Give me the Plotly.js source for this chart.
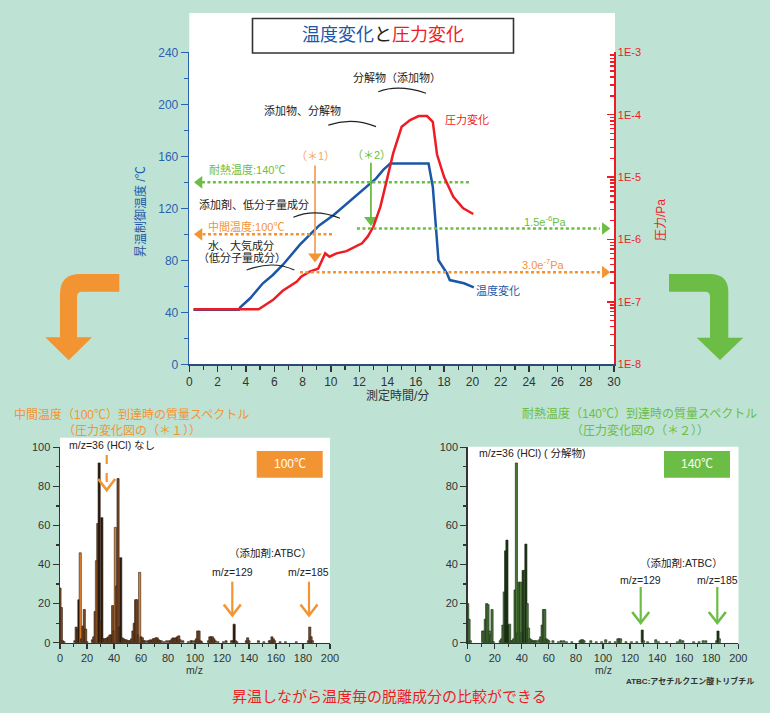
<!DOCTYPE html>
<html><head><meta charset="utf-8">
<script src="https://cdn.plot.ly/plotly-3.0.1.min.js"></script>
<style>html,body{margin:0;padding:0;background:#bee3d4}</style>
</head><body><div id="chart" style="width:770px;height:713px"></div>
<script>
// ---------------- DATA ----------------
// Temperature profile (min, °C)
const timeTemp = [0.3, 3.5, 3.6, 4.3, 5.2, 5.9, 6.6, 7.3, 7.8, 8.5, 9.2, 10.2, 11.3, 12.3, 13.2, 13.7, 14.2, 16.9, 17.2, 17.4, 17.6, 18.2, 18.4, 19.4, 20.1];
const tempC    = [42, 42, 43.8, 50.8, 62.3, 68.7, 76.4, 85.4, 91.8, 99.5, 107, 114.8, 125, 134, 143, 149.5, 154.5, 154.5, 136.6, 108.5, 80, 70, 64.8, 62.3, 59.2];
// Pressure profile (min, Pa)
const timePres = [0.3, 4.9, 5.9, 6.6, 7.6, 7.9, 8.5, 9.1, 9.6, 9.9, 10.4, 11.1, 12.2, 12.6, 13.0, 13.5, 13.9, 14.4, 15.0, 15.6, 16.2, 16.8, 17.2, 17.5, 18.0, 18.65, 19.35, 20.06];
const pressurePa = [7.6e-8, 7.6e-8, 1.07e-7, 1.51e-7, 2.11e-7, 2.54e-7, 3.05e-7, 3.4e-7, 6.0e-7, 5.3e-7, 6.0e-7, 6.5e-7, 8.7e-7, 1.11e-6, 1.6e-6, 3.36e-6, 8.0e-6, 2.4e-5, 6.4e-5, 8.2e-5, 9.5e-5, 9.5e-5, 7.7e-5, 2.3e-5, 1.0e-5, 4.85e-6, 3.16e-6, 2.56e-6];
// Reference levels
const heatLimitC = 140, midTempC = 100;
const pressMark2 = 1.5e-6, pressMark1 = 3.0e-7;
const sample1Time = 8.88, sample2Time = 12.83;
const sample1Span = [153, 83], sample2Span = [155, 111];
// Mass spectrum at 100 °C
const mz100  = [0,1,2,3,11,12,13,14,15,16,17,18,19,20,24,25,26,27,28,29,30,31,32,33,34,35,36,37,38,39,40,41,42,43,44,45,46,47,48,49,50,51,52,53,54,55,56,57,58,59,60,61,62,63,65,66,67,68,69,70,71,72,73,74,75,77,79,81,82,83,84,85,86,87,88,89,91,95,97,98,100,101,102,103,104,105,110,111,112,113,114,115,117,121,123,127,128,129,130,131,138,139,140,147,151,155,156,157,158,159,163,167,175,184,185,186,187];
const int100 = [28,18,1,0.5,1,8,7,22,46,2,8.5,17,7,0.5,1.5,3,16,42,61,92,11,64,2,2,2,2.5,3,4,4,19,6,59,29,84,8,43.5,2.5,2,1.5,1.5,1,1,1,2,6,10,22,22,4,36,3,2.5,1,1,1,1,1.5,1,2,2,2.5,2.5,1.5,1,1,0.5,1,1,1,2,2.5,2,2.5,3,3.5,1.5,1,0.5,1,1,1,2,6,6,1,0.5,1,3,3,3,2,1,0.5,0.5,1,1,1,9.5,1,0.5,1,2.5,1,1,0.5,1,1,3,2,1,0.5,0.5,0.5,1,8,3,1];
// Mass spectrum at 140 °C
const mz140  = [0,1,2,11,12,13,14,15,16,17,18,19,24,25,26,27,28,29,30,31,32,33,34,35,36,37,38,39,40,41,42,43,44,45,46,47,48,49,50,51,53,54,55,56,57,58,59,60,63,67,69,71,73,77,83,84,85,86,91,95,99,102,105,109,111,112,113,117,121,125,129,130,133,139,141,147,155,157,159,167,171,174,176,184,185,186];
const int140 = [20,12,1,6,6,12,20,19.5,6,4,17,0.5,1,2,9,26,47,52.5,9,9.5,1,1,2,27,92,5,31,31,5,37,37,50.5,20,7.5,2,1.5,1,1,1,1,1.5,3,9,17,17,2,1.5,1,1,0.5,1,1,0.5,0.5,1,1.5,1.5,1,1,0.5,0.5,1.5,0.5,0.5,2,2,2,0.5,0.5,0.5,6.5,1,0.5,1.5,0.5,0.5,0.5,1.5,1,0.5,0.5,1,1,1,6,2];
// Tick labels
const presTickVals = [1e-8,1e-7,1e-6,1e-5,1e-4,1e-3];
const presTickText = ['1E-8','1E-7','1E-6','1E-5','1E-4','1E-3'];

// ---------------- STYLE ----------------
const W = 770, H = 713;
const BLUE = '#1c57a7', RED = '#ee1d25', ORANGE = '#f39433', GREEN = '#6cbd45', DARK = '#333333';
const FONT = 'Liberation Sans, Arial, Noto Sans CJK JP, sans-serif';
const fx = x => x / W, fy = y => 1 - y / H;
const pth = pts => pts.map((p, i) => (i ? 'L' : 'M') + fx(p[0]).toFixed(5) + ',' + fy(p[1]).toFixed(5)).join(' ');

const darkBars100 = [14, 29, 31, 45, 129];
const orangeBars100 = [15, 27, 41, 59];
const col100 = mz100.map(m => darkBars100.includes(m) ? '#2b1a0e' : (orangeBars100.includes(m) ? '#e8862c' : '#7a4a28'));
const darkBars140 = [28, 29, 30, 41, 43, 129, 185];
const col140 = mz140.map(m => darkBars140.includes(m) ? '#1e3117' : '#4a7539');

const minorLog = [];
for (let e = -8; e < -3; e++) for (let d = 2; d <= 9; d++) minorLog.push(d * Math.pow(10, e));

const dotted = '3px,2.5px';
const traces = [
  {x: timeTemp, y: tempC, xaxis: 'x', yaxis: 'y', mode: 'lines', line: {color: BLUE, width: 2.5}, hoverinfo: 'skip'},
  {x: timePres, y: pressurePa, xaxis: 'x', yaxis: 'y2', mode: 'lines', line: {color: RED, width: 2.5}, hoverinfo: 'skip'},
  // dotted reference lines
  {x: [19.75, 0.9], y: [heatLimitC, heatLimitC], xaxis: 'x', yaxis: 'y', mode: 'lines', line: {color: GREEN, width: 2.5, dash: dotted}},
  {x: [10.08, 0.9], y: [midTempC, midTempC], xaxis: 'x', yaxis: 'y', mode: 'lines', line: {color: ORANGE, width: 2.5, dash: dotted}},
  {x: [11.84, 29.0], y: [pressMark2, pressMark2], xaxis: 'x', yaxis: 'y2', mode: 'lines', line: {color: GREEN, width: 2.5, dash: dotted}},
  {x: [7.82, 29.0], y: [pressMark1, pressMark1], xaxis: 'x', yaxis: 'y2', mode: 'lines', line: {color: ORANGE, width: 2.5, dash: dotted}},
  {x: [0.72], y: [heatLimitC], xaxis: 'x', yaxis: 'y', mode: 'markers', marker: {symbol: 'triangle-left', size: 11, color: GREEN}},
  {x: [0.72], y: [midTempC], xaxis: 'x', yaxis: 'y', mode: 'markers', marker: {symbol: 'triangle-left', size: 11, color: ORANGE}},
  {x: [29.35], y: [pressMark2], xaxis: 'x', yaxis: 'y2', mode: 'markers', marker: {symbol: 'triangle-right', size: 11, color: GREEN}},
  {x: [29.35], y: [pressMark1], xaxis: 'x', yaxis: 'y2', mode: 'markers', marker: {symbol: 'triangle-right', size: 11, color: ORANGE}},
  // vertical sampling arrows
  {x: [sample1Time, sample1Time], y: sample1Span, xaxis: 'x', yaxis: 'y', mode: 'lines', line: {color: '#f5a260', width: 1.8}},
  {x: [sample1Time], y: [sample1Span[1]], xaxis: 'x', yaxis: 'y', mode: 'markers', marker: {symbol: 'triangle-down', size: 12, color: ORANGE}},
  {x: [sample2Time, sample2Time], y: sample2Span, xaxis: 'x', yaxis: 'y', mode: 'lines', line: {color: GREEN, width: 1.8}},
  {x: [sample2Time], y: [sample2Span[1]], xaxis: 'x', yaxis: 'y', mode: 'markers', marker: {symbol: 'triangle-down', size: 12, color: GREEN}},
  // spectra
  {type: 'bar', x: mz100, y: int100, xaxis: 'x2', yaxis: 'y3', width: 1.6, marker: {color: col100, line: {color: '#2a190d', width: 0.6}}},
  {type: 'bar', x: mz140, y: int140, xaxis: 'x3', yaxis: 'y4', width: 1.6, marker: {color: col140, line: {color: '#1a2a13', width: 0.6}}}
];

function txt(text, x, y, color, size, opt) {
  return Object.assign({text: text, xref: 'paper', yref: 'paper', x: fx(x), y: fy(y), showarrow: false,
    xanchor: 'center', yanchor: 'middle', font: {family: FONT, color: color, size: size}}, opt || {});
}

const annotations = [
  txt('<span style="color:' + BLUE + '">温度変化</span><span style="color:#222">と</span><span style="color:' + RED + '">圧力変化</span>', 383, 35.5, '#222', 18),
  txt('分解物（添加物）', 397, 78, '#222', 11),
  txt('添加物、分解物', 302, 111, '#222', 11),
  txt('圧力変化', 467, 120, RED, 11),
  txt('（＊1）', 315, 156, '#f5a66a', 11),
  txt('（＊2）', 371, 155, GREEN, 11),
  txt('耐熱温度:140℃', 207, 170, GREEN, 11, {xanchor: 'left'}),
  txt('添加剤、低分子量成分', 197, 205, '#222', 11, {xanchor: 'left'}),
  txt('中間温度:100℃', 206, 227, ORANGE, 11, {xanchor: 'left'}),
  txt('水、大気成分', 206, 245, '#222', 11, {xanchor: 'left'}),
  txt('（低分子量成分）', 196, 258, '#222', 11, {xanchor: 'left'}),
  txt('1.5e<sup>-6</sup>Pa', 545, 221, GREEN, 11),
  txt('3.0e<sup>-7</sup>Pa', 543, 264, ORANGE, 11),
  txt('温度変化', 498, 291, BLUE, 11),
  txt('昇温制御温度 /℃', 140, 212, BLUE, 12, {textangle: -90}),
  txt('圧力/Pa', 661, 220, RED, 12, {textangle: -90}),
  txt('測定時間/分', 398, 396, DARK, 12),
  // spectrum panel titles
  txt('中間温度（100℃）到達時の質量スペクトル', 131, 414, ORANGE, 12),
  txt('（圧力変化図の（＊１））', 132, 430, ORANGE, 12),
  txt('耐熱温度（140℃）到達時の質量スペクトル', 639, 413, GREEN, 12),
  txt('（圧力変化図の（＊２））', 640, 430, GREEN, 12),
  txt('m/z=36 (HCl) なし', 67, 445, '#222', 10.5, {xanchor: 'left'}),
  txt('m/z=36 (HCl) ( 分解物)', 477, 453, '#222', 10.5, {xanchor: 'left'}),
  txt('100℃', 289.7, 464.3, '#ffffff', 12),
  txt('140℃', 697, 464.3, '#ffffff', 12),
  txt('（添加剤:ATBC）', 270, 553, '#222', 10.5),
  txt('m/z=129', 232, 571.5, '#222', 10.5),
  txt('m/z=185', 308, 571.5, '#222', 10.5),
  txt('（添加剤:ATBC）', 681, 562.5, '#222', 10.5),
  txt('m/z=129', 640.7, 580, '#222', 10.5),
  txt('m/z=185', 717.5, 580, '#222', 10.5),
  txt('m/z', 195, 669.5, DARK, 10.5),
  txt('m/z', 603, 669.5, DARK, 10.5),
  txt('<b>ATBC:アセチルクエン酸トリブチル</b>', 690, 680.5, '#333', 8),
  txt('昇温しながら温度毎の脱離成分の比較ができる', 389, 696, RED, 15)
];

function vArrow(x, y0, y1, color, dash) {
  return [
    {type: 'line', xref: 'paper', yref: 'paper', x0: fx(x), x1: fx(x), y0: fy(y0), y1: fy(y1 - 2), line: {color: color, width: 2.2, dash: dash || 'solid'}},
    {type: 'path', xref: 'paper', yref: 'paper', path: pth([[x - 8.5, y1 - 11], [x, y1], [x + 8.5, y1 - 11]]), line: {color: color, width: 2.6}}
  ];
}
function arc(t0, T0, tc, Tc, t1, T1) {
  return {type: 'path', xref: 'x', yref: 'y', path: `M ${t0},${T0} Q ${tc},${Tc} ${t1},${T1}`, line: {color: '#222', width: 1.2}};
}
function box(x0, y0, x1, y1, fill, lineColor, lw) {
  return {type: 'rect', xref: 'paper', yref: 'paper', x0: fx(x0), x1: fx(x1), y0: fy(y1), y1: fy(y0), fillcolor: fill,
    line: {color: lineColor || fill, width: lw || 0}};
}

const shapes = [
  {type: 'rect', xref: 'paper', yref: 'paper', x0: fx(189.3), x1: fx(615), y0: fy(364.3), y1: fy(13), fillcolor: '#ffffff', line: {width: 0}, layer: 'below'},
  {type: 'rect', xref: 'paper', yref: 'paper', x0: fx(60), x1: fx(330), y0: fy(642.7), y1: fy(437.7), fillcolor: '#ffffff', line: {width: 0}, layer: 'below'},
  {type: 'rect', xref: 'paper', yref: 'paper', x0: fx(467.7), x1: fx(738.3), y0: fy(642.7), y1: fy(446.7), fillcolor: '#ffffff', line: {width: 0}, layer: 'below'},
  box(252.5, 18.5, 513.5, 53, '#ffffff', '#333333', 1.6),
  box(256.7, 451, 322.7, 477.7, ORANGE),
  box(664, 451, 730, 477.7, GREEN),
  arc(13.35, 209.7, 14.8, 215.6, 16.72, 208.5),
  arc(9.82, 184, 11.5, 190.2, 13.19, 182.8),
  arc(7.35, 113.1, 8.9, 120.3, 10.64, 112.3),
  arc(4.05, 72.5, 5.9, 80.3, 7.42, 72.5),
  // big orange arrow (left)
  {type: 'path', xref: 'paper', yref: 'paper', fillcolor: ORANGE, line: {width: 0},
   path: 'M ' + fx(119.3) + ',' + fy(274) + ' L ' + fx(80) + ',' + fy(274) + ' Q ' + fx(60) + ',' + fy(274) + ' ' + fx(60) + ',' + fy(294) +
     ' L ' + fx(60) + ',' + fy(337.3) + ' L ' + fx(45.3) + ',' + fy(337.3) + ' L ' + fx(68.7) + ',' + fy(360.3) + ' L ' + fx(92) + ',' + fy(337.3) +
     ' L ' + fx(77) + ',' + fy(337.3) + ' L ' + fx(77) + ',' + fy(297) + ' Q ' + fx(77) + ',' + fy(291.7) + ' ' + fx(82) + ',' + fy(291.7) +
     ' L ' + fx(119.3) + ',' + fy(291.7) + ' Z'},
  // big green arrow (right)
  {type: 'path', xref: 'paper', yref: 'paper', fillcolor: GREEN, line: {width: 0},
   path: 'M ' + fx(669) + ',' + fy(274) + ' L ' + fx(710) + ',' + fy(274) + ' Q ' + fx(728.3) + ',' + fy(274) + ' ' + fx(728.3) + ',' + fy(292) +
     ' L ' + fx(728.3) + ',' + fy(337.7) + ' L ' + fx(743.3) + ',' + fy(337.7) + ' L ' + fx(720) + ',' + fy(360) + ' L ' + fx(696.7) + ',' + fy(337.7) +
     ' L ' + fx(710) + ',' + fy(337.7) + ' L ' + fx(710) + ',' + fy(297) + ' Q ' + fx(710) + ',' + fy(291.7) + ' ' + fx(705) + ',' + fy(291.7) +
     ' L ' + fx(669) + ',' + fy(291.7) + ' Z'}
].concat(vArrow(106.7, 455, 490, ORANGE, 'dash'), vArrow(232.3, 581.7, 615.5, ORANGE), vArrow(309, 581.7, 615.5, ORANGE),
         vArrow(640.7, 587, 623, GREEN), vArrow(717.3, 587, 623, GREEN));

const specX = dom => ({domain: dom, range: [0, 200], tickmode: 'linear', tick0: 0, dtick: 20, ticks: 'outside', ticklen: 5, tickwidth: 1.2,
  tickcolor: DARK, showline: true, linecolor: DARK, linewidth: 1.5, showgrid: false, zeroline: false,
  tickfont: {family: FONT, size: 11, color: DARK}, minor: {ticks: 'outside', ticklen: 3, dtick: 10, tickcolor: DARK, showgrid: false}});
const specY = () => ({domain: [fy(642.7), fy(447.3)], range: [0, 100], tickmode: 'linear', tick0: 0, dtick: 20, ticks: 'outside', ticklen: 6, tickwidth: 1.2,
  tickcolor: DARK, showline: true, linecolor: DARK, linewidth: 1.5, showgrid: false, zeroline: false,
  tickfont: {family: FONT, size: 11, color: DARK}, minor: {ticks: 'outside', ticklen: 3, dtick: 10, tickcolor: DARK, showgrid: false}});

const layout = {
  width: W, height: H, autosize: false, margin: {l: 0, r: 0, t: 0, b: 0, pad: 0},
  paper_bgcolor: '#bee3d4', plot_bgcolor: '#ffffff', showlegend: false, bargap: 0,
  font: {family: FONT, color: DARK},
  xaxis: {domain: [fx(189.3), fx(614)], range: [0, 30], anchor: 'y', tickmode: 'linear', tick0: 0, dtick: 2, ticks: 'outside', ticklen: 6, tickwidth: 1.3,
    tickcolor: DARK, showline: true, linecolor: '#2b4a7a', linewidth: 1.5, showgrid: false, zeroline: false,
    tickfont: {family: FONT, size: 12, color: DARK}, minor: {ticks: 'outside', ticklen: 4, dtick: 1, tickcolor: DARK, showgrid: false}},
  yaxis: {domain: [fy(364.3), fy(52.3)], range: [0, 240], anchor: 'x', tickmode: 'linear', tick0: 0, dtick: 40, ticks: 'outside', ticklen: 7, tickwidth: 1.5,
    tickcolor: '#2a62b0', showline: true, linecolor: '#2a62b0', linewidth: 1.6, showgrid: false, zeroline: false,
    tickfont: {family: FONT, size: 12, color: '#2a62b0'}, minor: {ticks: 'outside', ticklen: 4, dtick: 20, tickcolor: '#2a62b0', showgrid: false}},
  yaxis2: {overlaying: 'y', side: 'right', anchor: 'x', type: 'log', range: [-8, -3], tickmode: 'array', tickvals: presTickVals, ticktext: presTickText,
    ticks: 'inside', ticklen: 7, tickwidth: 1.5, tickcolor: RED, showline: true, linecolor: RED, linewidth: 1.6, showgrid: false, zeroline: false,
    tickfont: {family: FONT, size: 11, color: RED}, minor: {tickmode: 'array', tickvals: minorLog, ticks: 'inside', ticklen: 4, tickcolor: RED, showgrid: false}},
  xaxis2: Object.assign(specX([fx(60), fx(330)]), {anchor: 'y3'}),
  yaxis3: Object.assign(specY(), {anchor: 'x2'}),
  xaxis3: Object.assign(specX([fx(467.7), fx(738.3)]), {anchor: 'y4'}),
  yaxis4: Object.assign(specY(), {anchor: 'x3'}),
  annotations: annotations,
  shapes: shapes
};

Plotly.newPlot('chart', traces, layout, {staticPlot: true, displayModeBar: false});
</script>
</body></html>
